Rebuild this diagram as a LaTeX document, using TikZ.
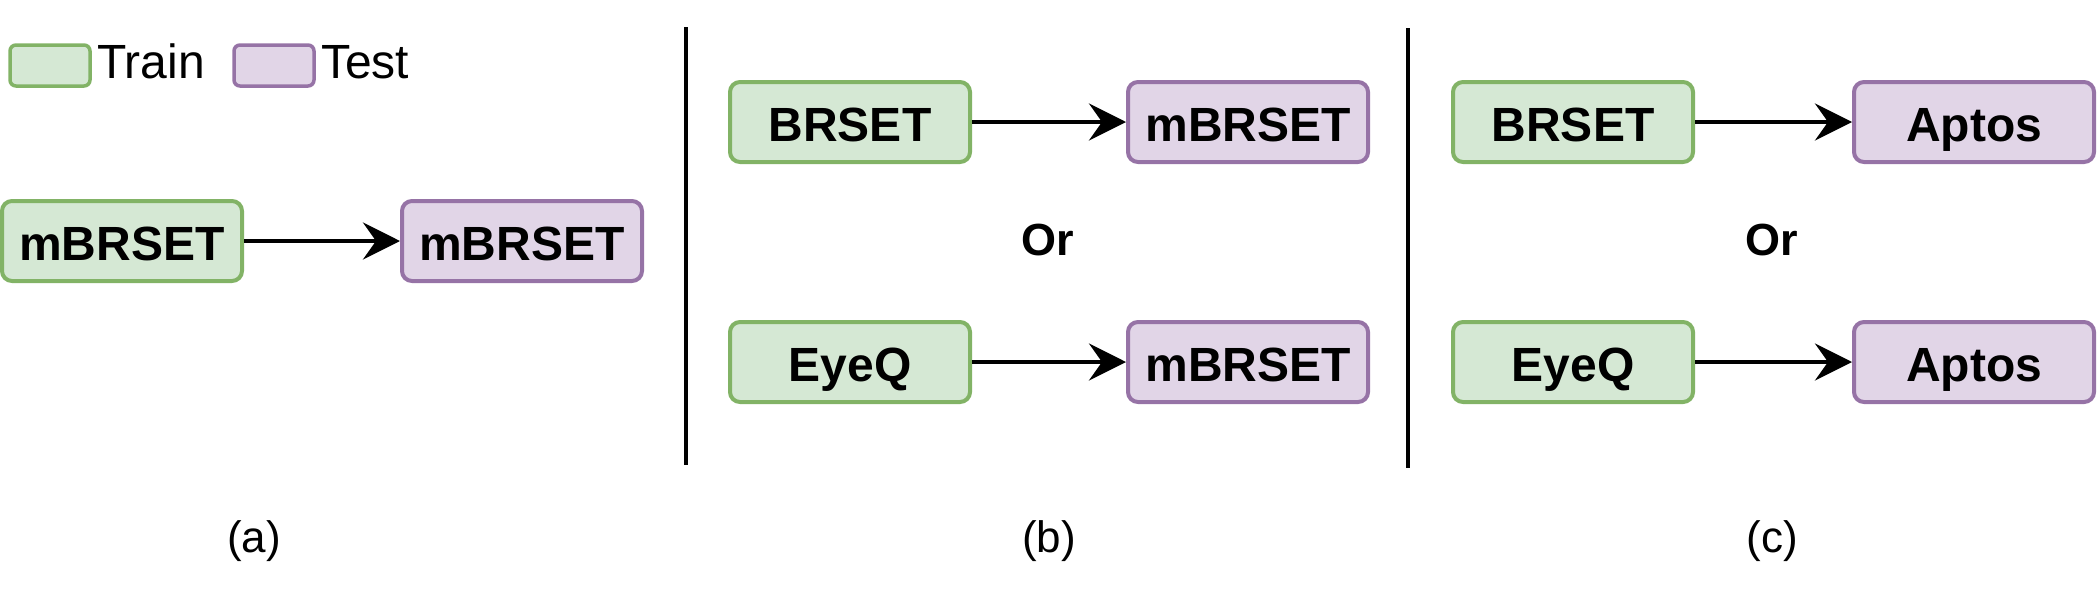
\documentclass[tikz,border=0pt]{standalone}
\usepackage{fontspec}
\setmainfont{Liberation Sans}
\usetikzlibrary{arrows.meta}
\definecolor{gfill}{HTML}{D5E8D4}
\definecolor{gdraw}{HTML}{82B366}
\definecolor{pfill}{HTML}{E1D5E7}
\definecolor{pdraw}{HTML}{9673A6}
\tikzset{
 box/.style={rounded corners=10pt, line width=4pt, minimum width=240pt, minimum height=80pt, inner sep=0pt, text height=38pt, text depth=0pt, font=\fontsize{48}{56}\selectfont\bfseries},
 trainbox/.style={box, fill=gfill, draw=gdraw},
 testbox/.style={box, fill=pfill, draw=pdraw},
 flow/.style={line width=4.5pt, -{Stealth[length=37pt, width=37pt, inset=13pt]}},
 sepline/.style={line width=4pt},
 legendbox/.style={rounded corners=6pt, line width=3.5pt, minimum width=80pt, minimum height=41pt, inner sep=0pt},
 ltext/.style={font=\fontsize{48}{56}\selectfont, anchor=base west, inner sep=0pt},
 ortext/.style={font=\fontsize{45}{54}\selectfont\bfseries},
 captext/.style={font=\fontsize{44}{52}\selectfont},
}
\begin{document}
\begin{tikzpicture}[x=1pt,y=-1pt]
\useasboundingbox (0,0) rectangle (2100,600);
% legend
\node[legendbox, fill=gfill, draw=gdraw] (lg) at (50,65.5) {};
\node[ltext] (lgt) at (97,78) {Train};
\node[legendbox, fill=pfill, draw=pdraw] (lp) at (274,65.5) {};
\node[ltext] (lpt) at (321,78) {Test};
% panel a
\node[trainbox] (A1) at (122,241) {mBRSET};
\node[testbox] (A2) at (522,241) {mBRSET};
\draw[flow] (A1) -- (A2);
% separators
\coordinate (s1t) at (686,27);
\coordinate (s1b) at (686,465);
\coordinate (s2t) at (1408,28);
\coordinate (s2b) at (1408,468);
\draw[sepline] (s1t) -- (s1b);
\draw[sepline] (s2t) -- (s2b);
% panel b
\node[trainbox] (B1) at (850,122) {BRSET};
\node[testbox] (B2) at (1248,122) {mBRSET};
\node[trainbox] (B3) at (850,362) {EyeQ};
\node[testbox] (B4) at (1248,362) {mBRSET};
\draw[flow] (B1) -- (B2);
\draw[flow] (B3) -- (B4);
\node[ortext] (orb) at (1048,240) {Or};
% panel c
\node[trainbox] (C1) at (1573,122) {BRSET};
\node[testbox] (C2) at (1974,122) {Aptos};
\node[trainbox] (C3) at (1573,362) {EyeQ};
\node[testbox] (C4) at (1974,362) {Aptos};
\draw[flow] (C1) -- (C2);
\draw[flow] (C3) -- (C4);
\node[ortext] (orc) at (1772,240) {Or};
% captions
\node[captext] (capa) at (254,541) {(a)};
\node[captext] (capb) at (1049,541) {(b)};
\node[captext] (capc) at (1772,541) {(c)};
\end{tikzpicture}
\end{document}
